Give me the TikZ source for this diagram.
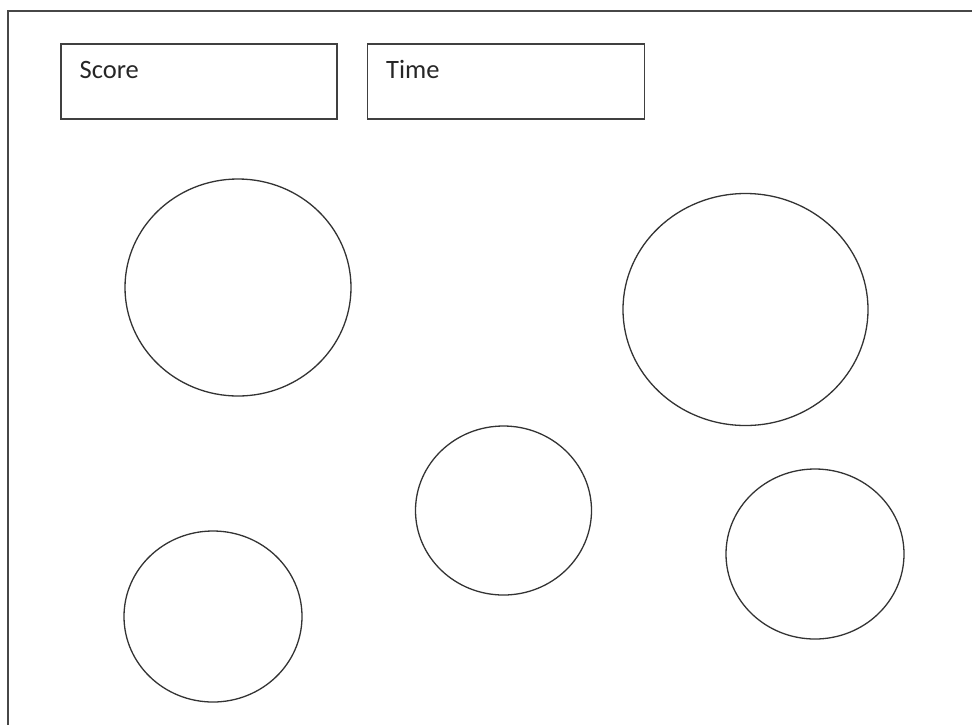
\documentclass[tikz,border=0pt]{standalone}
\usepackage{fontspec}
\setmainfont{Carlito}
\begin{document}
\begin{tikzpicture}[x=1pt,y=-1pt,
  frame/.style={draw=black!72, line width=2pt},
  panel/.style={draw=black!75, line width=1.7pt, rectangle, minimum width=276pt, minimum height=75pt, anchor=north west},
  label/.style={font=\fontsize{26.5}{30}\selectfont, text=black!85, anchor=base west, inner sep=0pt},
  ball/.style={draw=black!80, line width=1.3pt}]
\useasboundingbox (0,0) rectangle (972,724);
\begin{scope}
\clip (0,0) rectangle (972,724);
\draw[frame] (8.3,11) rectangle (990,740);
\end{scope}
\node[panel] (score) at (60.3,43) {};
\node[panel, minimum width=277pt] (time) at (366.5,43) {};
\node[label] (scoretxt) at (79.5,78.5) {Score};
\node[label] (timetxt) at (386,78.5) {Time};
\draw[ball] (238,287.5) ellipse [x radius=113, y radius=108.5];
\draw[ball] (745.5,309.5) ellipse [x radius=122.5, y radius=116];
\draw[ball] (503.5,510.5) ellipse [x radius=88, y radius=84.5];
\draw[ball] (213,616.5) ellipse [x radius=89, y radius=85.5];
\draw[ball] (815,554) ellipse [x radius=89, y radius=85];
\end{tikzpicture}
\end{document}
